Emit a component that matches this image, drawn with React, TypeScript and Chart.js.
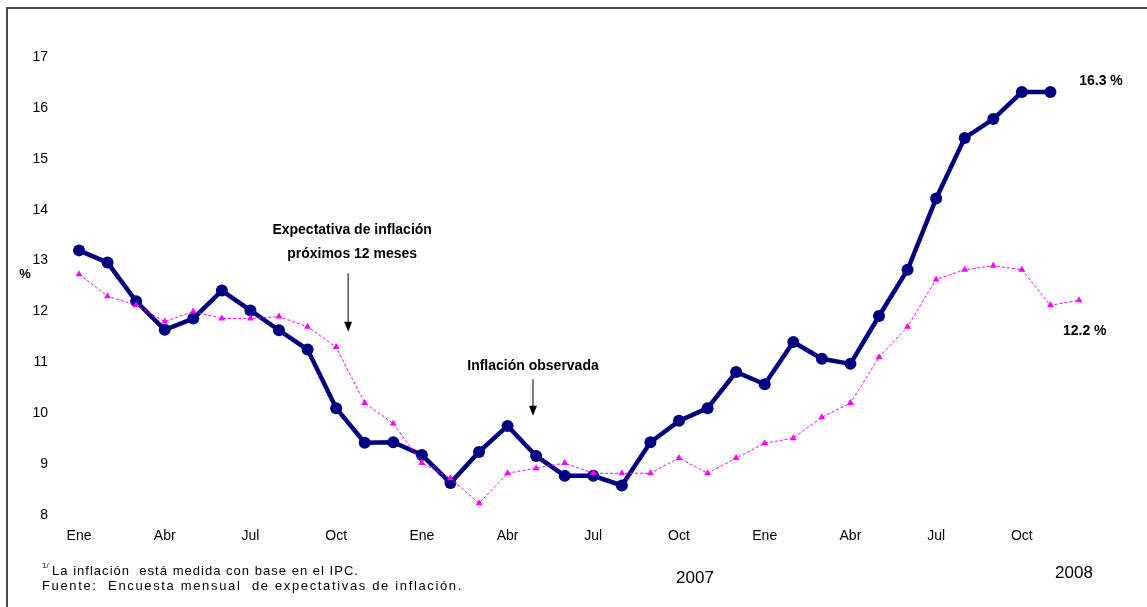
import { useEffect, useRef } from 'react';
import { Chart, registerables } from 'chart.js';

Chart.register(...registerables);

const monthNames = ['Ene', 'Feb', 'Mar', 'Abr', 'May', 'Jun', 'Jul', 'Ago', 'Sep', 'Oct', 'Nov', 'Dic'];
const years = ['2006', '2007', '2008'];
const categories = years.flatMap((y) => monthNames.map((m) => `${m} ${y}`));
const tickMonths = ['Ene', 'Abr', 'Jul', 'Oct'];
const yTicks = [8, 9, 10, 11, 12, 13, 14, 15, 16, 17];

const inflacionObservada = [
  13.2, 12.96, 12.2, 11.64, 11.86, 12.41, 12.02, 11.63, 11.25, 10.1, 9.42, 9.43,
  9.18, 8.63, 9.24, 9.75, 9.16, 8.77, 8.77, 8.58, 9.43, 9.85, 10.1, 10.81, 10.57, 11.4,
  11.07, 10.97, 11.91, 12.82, 14.22, 15.41, 15.78, 16.31, 16.31,
];
const expectativa = [
  12.73, 12.3, 12.12, 11.8, 12.0, 11.86, 11.86, 11.9, 11.7, 11.3, 10.2, 9.8,
  9.02, 8.72, 8.23, 8.82, 8.92, 9.02, 8.82, 8.82, 8.82, 9.12, 8.82, 9.12, 9.41, 9.51,
  9.92, 10.2, 11.1, 11.7, 12.63, 12.82, 12.9, 12.82, 12.12, 12.22,
];

const FONT = 'Arial, "Liberation Sans", sans-serif';

const annotationsPlugin = {
  id: 'annotations',
  afterDraw(chart: any) {
    const ctx = chart.ctx as CanvasRenderingContext2D;
    const xs = chart.scales.x;
    const ys = chart.scales.y;
    const px = (i: number) => xs.getPixelForDecimal(i / (categories.length - 1));
    const py = (v: number) => ys.getPixelForValue(v);
    ctx.save();

    // frame (top and left)
    ctx.strokeStyle = '#4a4a4a';
    ctx.lineWidth = 2;
    ctx.beginPath();
    ctx.moveTo(7, 607);
    ctx.lineTo(7, 8);
    ctx.lineTo(1147, 8);
    ctx.stroke();

    ctx.fillStyle = '#000';
    ctx.textAlign = 'center';
    ctx.textBaseline = 'middle';

    // % label
    ctx.font = `bold 13px ${FONT}`;
    ctx.fillText('%', 25, py(12.72));

    // Expectativa annotation
    ctx.font = `bold 14px ${FONT}`;
    ctx.fillText('Expectativa de inflación', px(9.56), py(13.6));
    ctx.fillText('próximos 12 meses', px(9.56), py(13.13));
    const arrow = (x: number, y1: number, y2: number) => {
      ctx.strokeStyle = '#000';
      ctx.lineWidth = 1;
      ctx.beginPath();
      ctx.moveTo(x, y1);
      ctx.lineTo(x, y2 - 8);
      ctx.stroke();
      ctx.beginPath();
      ctx.moveTo(x - 4, y2 - 10);
      ctx.lineTo(x + 4, y2 - 10);
      ctx.lineTo(x, y2);
      ctx.closePath();
      ctx.fill();
    };
    arrow(px(9.42), py(12.75), py(11.6));

    // Inflación observada annotation
    ctx.fillText('Inflación observada', px(15.89), py(10.93));
    arrow(px(15.89), py(10.67), py(9.95));

    // end labels
    ctx.font = `bold 14px ${FONT}`;
    ctx.fillText('16.3 %', px(35.77), py(16.53));
    ctx.fillText('12.2 %', px(35.2), py(11.62));

    // years
    ctx.font = `17px ${FONT}`;
    ctx.fillText('2007', 695, 578);
    ctx.fillText('2008', 1074, 573);

    // footnotes
    ctx.textAlign = 'left';
    const spaced = (t: string, x: number, y: number, target: number) => {
      (ctx as any).letterSpacing = '0px';
      const w = ctx.measureText(t).width;
      const ls = (target - w) / t.length;
      (ctx as any).letterSpacing = `${ls}px`;
      ctx.fillText(t, x, y);
      (ctx as any).letterSpacing = '0px';
    };
    ctx.font = `8px ${FONT}`;
    ctx.fillText('1/', 42, 566);
    ctx.font = `13px ${FONT}`;
    spaced('La inflación  está medida con base en el IPC.', 52, 571, 307);
    spaced('Fuente:  Encuesta mensual  de expectativas de inflación.', 42, 586, 421);

    ctx.restore();
  },
};

export default function App() {
  const ref = useRef<HTMLCanvasElement | null>(null);

  useEffect(() => {
    if (!ref.current) return;
    const chart = new Chart(ref.current, {
      type: 'line',
      data: {
        labels: categories,
        datasets: [
          {
            label: 'Expectativa de inflación próximos 12 meses',
            data: expectativa,
            borderColor: '#FF00FF',
            backgroundColor: '#FF00FF',
            borderWidth: 1,
            borderDash: [3, 2],
            pointStyle: 'triangle',
            pointRadius: 4,
            pointBorderWidth: 0,
            tension: 0,
          },
          {
            label: 'Inflación observada',
            data: inflacionObservada,
            borderColor: '#000080',
            backgroundColor: '#000080',
            borderWidth: 4.5,
            pointStyle: 'circle',
            pointRadius: 6,
            pointBorderWidth: 0,
            tension: 0,
          },
        ],
      },
      options: {
        responsive: false,
        animation: false,
        layout: { padding: { left: 0, right: 68, top: 57, bottom: 0 } },
        plugins: {
          legend: { display: false },
          tooltip: { enabled: false },
          title: { display: false },
        },
        scales: {
          x: {
            offset: false,
            grid: { display: false, drawTicks: false },
            border: { display: false },
            afterFit: (axis: any) => {
              axis.height = 92;
            },
            ticks: {
              autoSkip: false,
              maxRotation: 0,
              minRotation: 0,
              padding: 13,
              color: '#000',
              font: { family: FONT, size: 14 },
              callback: (_v: any, i: number) => {
                const m = categories[i].split(' ')[0];
                return tickMonths.includes(m) ? m : '';
              },
            },
          },
          y: {
            min: yTicks[0],
            max: yTicks[yTicks.length - 1],
            grid: { display: false, drawTicks: false },
            border: { display: false },
            afterFit: (axis: any) => {
              axis.width = 79;
            },
            afterBuildTicks: (axis: any) => {
              axis.ticks = yTicks.map((v) => ({ value: v }));
            },
            ticks: {
              padding: 31,
              color: '#000',
              font: { family: FONT, size: 14 },
            },
          },
        },
      },
      plugins: [annotationsPlugin],
    });
    return () => chart.destroy();
  }, []);

  return (
    <div style={{ position: 'fixed', left: 0, top: 0, width: 1147, height: 607, background: '#fff', overflow: 'hidden' }}>
      <canvas ref={ref} width={1147} height={607} style={{ display: 'block' }} />
    </div>
  );
}
